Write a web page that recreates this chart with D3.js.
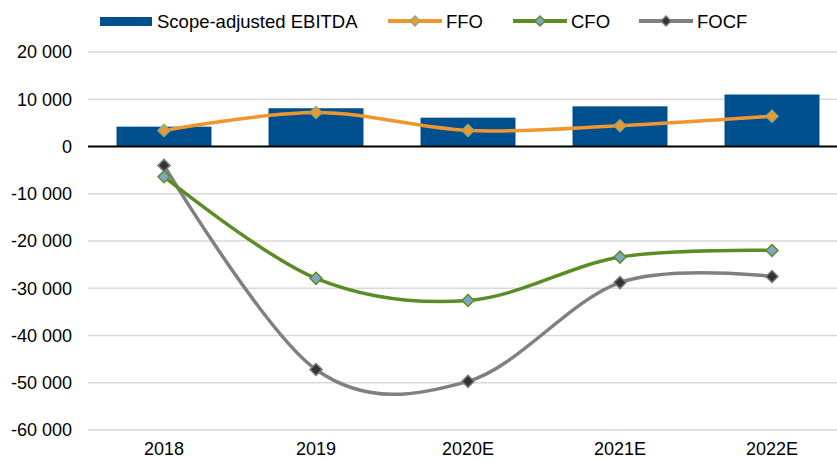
<!DOCTYPE html>
<html>
<head>
<meta charset="utf-8">
<script src="https://cdn.jsdelivr.net/npm/d3@7"></script>
<style>
  body { margin: 0; background: #fff; }
  text { font-family: "Liberation Sans", Arial, sans-serif; fill: #000; }
</style>
</head>
<body>
<div id="chart"></div>
<script>
// chart data
var years = ["2018", "2019", "2020E", "2021E", "2022E"];
var ebitda = [4200, 8100, 6100, 8500, 11000];
var ffo = [3400, 7200, 3400, 4400, 6400];
var cfo = [-6400, -27900, -32600, -23400, -22000];
var focf = [-4000, -47200, -49700, -28800, -27500];
var yTicks = [20000, 10000, 0, -10000, -20000, -30000, -40000, -50000, -60000];

var W = 837, H = 460;
var margin = {top: 52, left: 88};
var w = 5 * 152;

var svg = d3.select("#chart").append("svg")
  .attr("width", W).attr("height", H);

var g = svg.append("g").attr("transform", `translate(${margin.left},${margin.top})`);

var x = d3.scaleBand().domain(years).range([0, w]).paddingInner(0.375).paddingOuter(0.1875);
// -60000 sits at 430, 20000 at 52
var y = d3.scaleLinear().domain([-60000, 20000]).range([430 - margin.top, 0]);

var fmt = d => d3.format(",")(d).replace(/,/g, " ").replace("−", "-");

// gridlines
g.selectAll(".grid").data(yTicks.filter(d => d !== 0)).enter()
  .append("line")
  .attr("x1", 0).attr("x2", W - margin.left)
  .attr("y1", d => y(d)).attr("y2", d => y(d))
  .attr("stroke", "#d9d9d9").attr("stroke-width", 1.5);

// y axis labels
g.selectAll(".ylab").data(yTicks).enter()
  .append("text")
  .attr("x", -16).attr("y", d => y(d)).attr("dy", "0.35em")
  .attr("text-anchor", "end")
  .style("font-size", "18px")
  .text(d => fmt(d));

// bars
g.selectAll(".bar").data(ebitda).enter()
  .append("rect")
  .attr("x", (d, i) => x(years[i]))
  .attr("width", x.bandwidth())
  .attr("y", d => y(d))
  .attr("height", d => y(0) - y(d))
  .attr("fill", "#004f8f");

// zero line
g.append("line")
  .attr("x1", 0).attr("x2", W - margin.left)
  .attr("y1", y(0)).attr("y2", y(0))
  .attr("stroke", "#000").attr("stroke-width", 2);

// x labels
g.selectAll(".xlab").data(years).enter()
  .append("text")
  .attr("x", d => x(d) + x.bandwidth() / 2)
  .attr("y", 449 - margin.top)
  .attr("dy", "0.35em")
  .attr("text-anchor", "middle")
  .style("font-size", "18px")
  .text(d => d);

var line = d3.line()
  .x((d, i) => x(years[i]) + x.bandwidth() / 2)
  .y(d => y(d))
  .curve(d3.curveCardinal.tension(0));

var series = [
  {name: "FFO", values: ffo, color: "#f0962e", fill: "#f0962e", stroke: "#8faa7c"},
  {name: "CFO", values: cfo, color: "#5b8c25", fill: "#7ea6c8", stroke: "#5b8c25"},
  {name: "FOCF", values: focf, color: "#808080", fill: "#333333", stroke: "#7a7a7a"}
];

var diamond = s => `M0,${-s}L${s},0L0,${s}L${-s},0Z`;

// draw FOCF first, then CFO, then FFO on top
series.slice().reverse().forEach(function(s) {
  g.append("path").datum(s.values)
    .attr("d", line)
    .attr("fill", "none")
    .attr("stroke", s.color)
    .attr("stroke-width", 3.5);
});
series.slice().reverse().forEach(function(s) {
  g.selectAll(null).data(s.values).enter()
    .append("path")
    .attr("d", diamond(6))
    .attr("transform", (d, i) => `translate(${x(years[i]) + x.bandwidth() / 2},${y(d)})`)
    .attr("fill", s.fill)
    .attr("stroke", s.stroke)
    .attr("stroke-width", 1.5);
});

// legend
var lg = svg.append("g");
lg.append("rect").attr("x", 100).attr("y", 17).attr("width", 52).attr("height", 9).attr("fill", "#004f8f");
lg.append("text").attr("x", 157).attr("y", 22).attr("dy", "0.35em").style("font-size", "18.5px").text("Scope-adjusted EBITDA");

var legX = [388, 513, 639];
series.forEach(function(s, i) {
  var lx = legX[i];
  lg.append("line").attr("x1", lx).attr("x2", lx + 54).attr("y1", 21).attr("y2", 21)
    .attr("stroke", s.color).attr("stroke-width", 4);
  lg.append("path").attr("d", diamond(5))
    .attr("transform", `translate(${lx + 27},21)`)
    .attr("fill", s.fill).attr("stroke", s.stroke).attr("stroke-width", 1.5);
  lg.append("text").attr("x", lx + 58).attr("y", 22).attr("dy", "0.35em")
    .style("font-size", "18.5px").text(s.name);
});
</script>
</body>
</html>
